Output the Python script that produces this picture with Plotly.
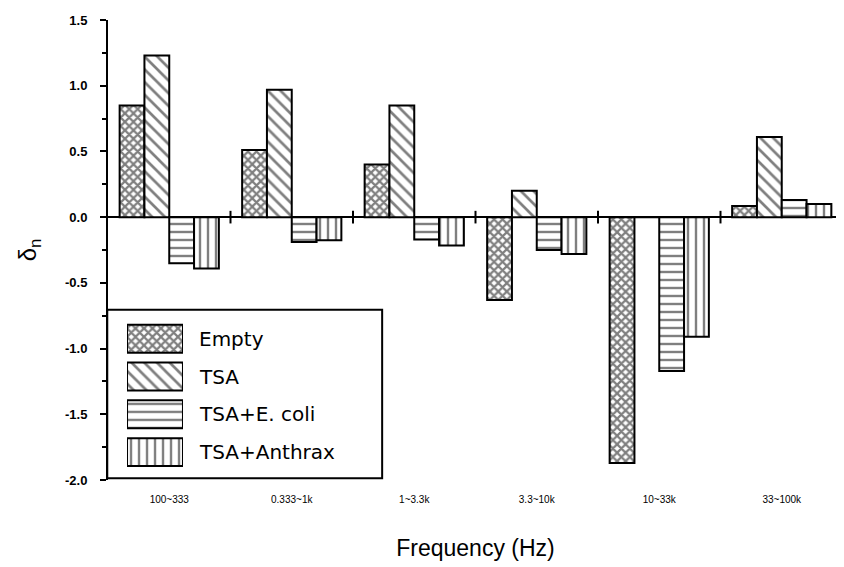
import plotly.graph_objects as go

# Bandas de frecuencia
categories = ['100~333', '0.333~1k', '1~3.3k', '3.3~10k', '10~33k', '33~100k']

# Valores (delta_n)
empty = [0.85, 0.51, 0.40, -0.63, -1.87, 0.085]
tsa = [1.23, 0.97, 0.85, 0.20, 0.0, 0.61]
tsa_ecoli = [-0.35, -0.19, -0.17, -0.25, -1.17, 0.13]
tsa_anthrax = [-0.39, -0.175, -0.215, -0.28, -0.91, 0.10]

# Etiquetas del eje y (con guion normal como en el original)
ytick_vals = [1.5, 1.0, 0.5, 0.0, -0.5, -1.0, -1.5, -2.0]
ytick_text = ['1.5', '1.0', '0.5', '0.0', '-0.5', '-1.0', '-1.5', '-2.0']

series_names = ['Empty', 'TSA', 'TSA+E. coli', 'TSA+Anthrax']
series_values = [empty, tsa, tsa_ecoli, tsa_anthrax]
patterns = ['x', '\\', '-', '|']
pattern_sizes = [6, 9, 8, 8]
pattern_solid = [0.6, 0.3, 0.3, 0.3]

FONT = 'Arial, Liberation Sans, sans-serif'

fig = go.Figure()

x_pos = list(range(len(categories)))

for name, vals, shp, sz, sol in zip(series_names, series_values, patterns, pattern_sizes, pattern_solid):
    fig.add_trace(go.Bar(
        x = x_pos, y = vals, name = name, showlegend = False,
        marker = dict(color = 'white', line = dict(color = 'black', width = 2),
                      pattern = dict(shape = shp, fgcolor = 'black', bgcolor = 'white',
                                     size = sz, solidity = sol, fillmode = 'overlay'))
    ))

# Marcas sobre la linea cero entre grupos
boundaries = [i + 0.5 for i in range(len(categories) - 1)]
fig.add_trace(go.Scatter(
    x = boundaries, y = [0] * len(boundaries), mode = 'markers', showlegend = False,
    marker = dict(symbol = 'line-ns', size = 9, line = dict(color = 'black', width = 2)),
    hoverinfo = 'skip'
))

# Leyenda hecha a mano (cuadros grandes con patron)
fig.add_trace(go.Bar(
    x = [1] * len(series_names), y = series_names, orientation = 'h',
    xaxis = 'x2', yaxis = 'y2', showlegend = False, hoverinfo = 'skip', width = 0.74,
    marker = dict(color = 'white', line = dict(color = 'black', width = 2),
                  pattern = dict(shape = patterns, fgcolor = 'black', bgcolor = 'white',
                                 size = pattern_sizes, solidity = pattern_solid,
                                 fillmode = 'overlay'))
))

for name in series_names:
    fig.add_annotation(
        x = 0.121, y = name, xref = 'paper', yref = 'y2', text = name,
        showarrow = False, xanchor = 'left', yanchor = 'middle',
        font = dict(family = 'DejaVu Sans, sans-serif', size = 20, color = 'black')
    )

fig.add_shape(
    type = 'rect', xref = 'paper', yref = 'paper',
    x0 = -0.001, x1 = 0.373, y0 = 0.004, y1 = 0.37,
    line = dict(color = 'black', width = 2), fillcolor = 'white', layer = 'below'
)

# la pagina tiene 8 px de margen en body, por eso 836 x 559
fig.update_layout(
    width = 836, height = 559,
    margin = dict(l = 100, r = 1, t = 12, b = 87),
    paper_bgcolor = 'white', plot_bgcolor = 'white',
    barmode = 'group', bargap = 0.19, bargroupgap = 0,
    font = dict(family = FONT, color = 'black'),
    xaxis = dict(
        range = [-0.5, len(categories) - 0.5], tickvals = x_pos, ticktext = categories,
        showline = False, showgrid = False, zeroline = False, ticks = '',
        ticklabelstandoff = 12, automargin = False,
        tickfont = dict(family = 'Liberation Sans Narrow, Arial Narrow, Arial', size = 10),
        title = dict(text = 'Frequency (Hz)', standoff = 35,
                     font = dict(family = FONT, size = 23))
    ),
    yaxis = dict(
        range = [-2.0, 1.5], tickvals = ytick_vals, ticktext = ytick_text, automargin = False,
        showline = True, linecolor = 'black', linewidth = 2,
        ticks = 'outside', ticklen = 6, tickwidth = 2, tickcolor = 'black',
        minor = dict(dtick = 0.25, ticks = 'outside', ticklen = 4, tickwidth = 2, tickcolor = 'black'),
        showgrid = False, zeroline = True, zerolinecolor = 'black', zerolinewidth = 2,
        ticklabelstandoff = 10,
        tickfont = dict(family = FONT, size = 13, weight = 'bold'),
        title = dict(text = 'δ<sub>n</sub>', standoff = 22, font = dict(family = FONT, size = 24))
    ),
    xaxis2 = dict(domain = [0.0259, 0.102], range = [0, 1], visible = False, anchor = 'y2'),
    yaxis2 = dict(domain = [0.0196, 0.348], autorange = 'reversed', visible = False,
                  anchor = 'x2'),
)

fig.write_html('out.html')
